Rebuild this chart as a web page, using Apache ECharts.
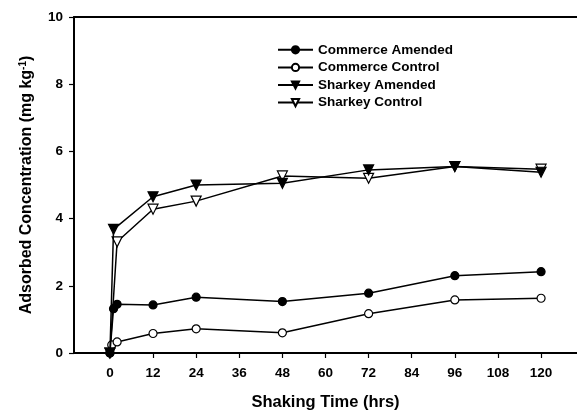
<!DOCTYPE html>
<html>
<head>
<meta charset="utf-8">
<script src="https://cdn.jsdelivr.net/npm/echarts@6/dist/echarts.min.js"></script>
<style>html,body{margin:0;padding:0;background:#fff}#c{width:577px;height:411px}</style>
</head>
<body>
<div id="c"></div>
<script>
const xTicks = [0, 12, 24, 36, 48, 60, 72, 84, 96, 108, 120];
const yTicks = [0, 2, 4, 6, 8, 10];
const seriesNames = ['Commerce Amended', 'Commerce Control', 'Sharkey Amended', 'Sharkey Control'];
const caTime = [0, 1, 2, 12, 24, 48, 72, 96, 120];
const caVal  = [0, 1.32, 1.45, 1.43, 1.66, 1.53, 1.78, 2.30, 2.42];
const ccTime = [0, 0.5, 2, 12, 24, 48, 72, 96, 120];
const ccVal  = [0, 0.24, 0.33, 0.58, 0.72, 0.60, 1.17, 1.58, 1.63];
const saTime = [0, 1, 12, 24, 48, 72, 96, 120];
const saVal  = [0, 3.68, 4.65, 5.00, 5.05, 5.45, 5.55, 5.38];
const scTime = [0, 2, 12, 24, 48, 72, 96, 120];
const scVal  = [0, 3.31, 4.28, 4.52, 5.27, 5.20, 5.55, 5.47];

const pairs = (t, v) => t.map((x, i) => [x, v[i]]);
const FONT = '"Liberation Sans", Arial, sans-serif';

function mk(name, t, v, symbol, filled, size) {
  return {
    name, type: 'line', data: pairs(t, v),
    symbol, symbolSize: size, symbolRotate: symbol === 'triangle' ? 180 : 0,
    showAllSymbol: true,
    lineStyle: { color: '#000', width: 1.5 },
    itemStyle: { color: filled ? '#000' : '#fff', borderColor: '#000', borderWidth: 1.2 },
    emphasis: { disabled: true },
    z: filled ? 3 : 2
  };
}

const chart = echarts.init(document.getElementById('c'), null, { renderer: 'canvas' });
chart.setOption({
  animation: false,
  backgroundColor: '#fff',
  textStyle: { fontFamily: FONT },
  grid: { left: 74, right: 0, top: 17, bottom: 58, outerBoundsMode: 'none', containLabel: false },
  legend: {
    orient: 'vertical', left: 277, top: 41, padding: 0, itemWidth: 35, itemHeight: 9, itemGap: 0,
    textStyle: { fontFamily: FONT, fontWeight: 'bold', fontSize: 13.5, color: '#000', lineHeight: 17.6 },
    data: seriesNames
  },
  xAxis: [{
    type: 'value', min: -10, max: 130,
    name: 'Shaking Time (hrs)', nameLocation: 'middle', nameGap: 41,
    nameTextStyle: { fontFamily: FONT, fontWeight: 'bold', fontSize: 16.5, color: '#000' },
    axisLine: { show: true, onZero: false, lineStyle: { color: '#000', width: 2 } },
    axisTick: { show: true, length: 5, lineStyle: { color: '#000', width: 1.2 }, customValues: xTicks },
    axisLabel: { fontFamily: FONT, fontWeight: 'bold', fontSize: 13.5, color: '#000', margin: 13, customValues: xTicks },
    splitLine: { show: false }
  }, {
    type: 'value', position: 'top', min: -10, max: 130,
    axisLine: { show: true, onZero: false, lineStyle: { color: '#000', width: 2 } },
    axisTick: { show: false }, axisLabel: { show: false }, splitLine: { show: false }
  }],
  yAxis: {
    type: 'value', min: 0, max: 10, interval: 2,
    name: 'Adsorbed Concentration (mg kg{sup|-1})', nameLocation: 'middle', nameGap: 38,
    nameTextStyle: { fontFamily: FONT, fontWeight: 'bold', fontSize: 16, color: '#000',
      rich: { sup: { fontFamily: FONT, fontWeight: 'bold', fontSize: 10, color: '#000', verticalAlign: 'top', padding: [0, 0, 8, 0] } } },
    axisLine: { show: true, onZero: false, lineStyle: { color: '#000', width: 2 } },
    axisTick: { show: true, length: 5, lineStyle: { color: '#000', width: 1.2 } },
    axisLabel: { fontFamily: FONT, fontWeight: 'bold', fontSize: 13.5, color: '#000', margin: 11,
      customValues: yTicks },
    splitLine: { show: false }
  },
  series: [
    mk(seriesNames[0], caTime, caVal, 'circle', true, 8),
    mk(seriesNames[1], ccTime, ccVal, 'circle', false, 8),
    mk(seriesNames[2], saTime, saVal, 'triangle', true, 10),
    mk(seriesNames[3], scTime, scVal, 'triangle', false, 10)
  ]
});
</script>
</body>
</html>
